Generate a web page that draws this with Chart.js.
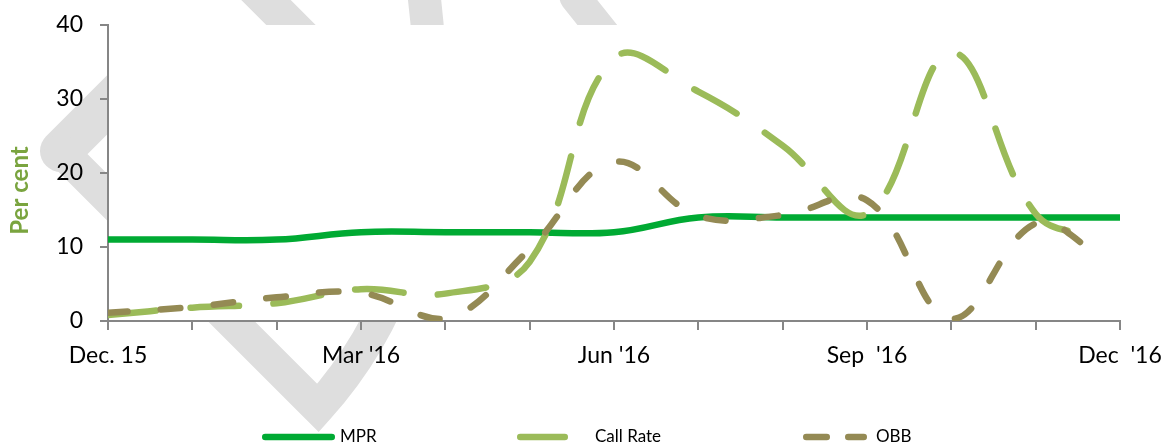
<!DOCTYPE html>
<html>
<head>
<meta charset="utf-8">
<title>MPR, Call Rate and OBB</title>
<script src="https://cdn.jsdelivr.net/npm/chart.js@4.4.1/dist/chart.umd.min.js"></script>
<style>
  html, body { margin: 0; padding: 0; background: #fff; overflow: hidden; }
  #wrap { position: relative; width: 1164px; height: 444px; }
</style>
</head>
<body>
<div id="wrap"><canvas id="rates"></canvas></div>
<script>
// month index: 0 = Dec. 15 ... 12 = Dec '16
var months = [0, 1, 2, 3, 4, 5, 6, 7, 8, 9, 10, 11, 12];
var monthLabels = ["Dec. 15", "", "", "Mar '16", "", "", "Jun '16", "", "", "Sep  '16", "", "", "Dec  '16"];
var mpr = [11, 11, 11, 12, 12, 12, 12, 14, 14, 14, 14, 14, 14];

// call rate and OBB: last reading is taken before the end of December
var rateMonths = [0, 1, 2, 3, 4, 5, 6, 7, 8, 9, 10, 11, 11.74];
var callRate = [0.8, 1.8, 2.4, 4.3, 3.7, 8, 35.5, 31, 23.7, 14.5, 36.3, 14.5, 11.2];
var obb = [1.1, 1.9, 3.2, 3.8, 0.3, 9.7, 21.5, 14.2, 14.3, 16.3, 0.3, 13.2, 9.1];

var axisGrey = '#868686';
var font = 'Lato';

function points(xs, ys) {
  return xs.map(function (x, i) { return { x: x, y: ys[i] }; });
}

/*----------------------------------------*/
/*  grey watermark behind the frame
/*----------------------------------------*/
var watermark = {
  id: 'watermark',
  beforeDraw: function (chart) {
    var c = chart.ctx, a = chart.chartArea;
    c.save();
    c.strokeStyle = '#dedede';
    c.lineCap = 'round';

    // chevron, upper arm
    c.lineJoin = 'round';
    c.lineWidth = 42;
    c.beginPath(); c.moveTo(160, 52); c.lineTo(61, 151); c.stroke();

    // lower arm into the V, then bending up
    c.lineJoin = 'miter';
    c.lineWidth = 33;
    c.beginPath(); c.moveTo(61, 151); c.lineTo(318, 408);
    c.quadraticCurveTo(460, 250, 422, -20); c.stroke();

    // strokes along the top
    c.lineWidth = 35;
    c.beginPath(); c.moveTo(236, -30); c.lineTo(350, 84); c.stroke();
    c.lineJoin = 'round';
    c.lineWidth = 31;
    c.beginPath(); c.moveTo(620, -48); c.lineTo(575, -3); c.lineTo(650, 91); c.stroke();

    // plot area stays white
    c.fillStyle = '#fff';
    c.fillRect(a.left, a.top, a.right - a.left, a.bottom - a.top);
    c.restore();
  }
};

/*----------------------------------------*/
/*  legend along the bottom
/*----------------------------------------*/
var legendSpots = [
  { from: 262, to: 335, text: 340 },
  { from: 517, to: 568, text: 595 },
  { from: 803, to: 867, text: 876, dash: [20.5, 21.5] }
];
var seriesLegend = {
  id: 'seriesLegend',
  afterDraw: function (chart) {
    var c = chart.ctx, y = 437;
    c.save();
    c.font = '17px ' + font;
    c.fillStyle = '#000';
    c.textBaseline = 'middle';
    c.lineCap = 'round';
    chart.data.datasets.forEach(function (ds, i) {
      var s = legendSpots[i], w = ds.borderWidth;
      c.strokeStyle = ds.borderColor;
      c.lineWidth = w;
      c.setLineDash(s.dash || ds.borderDash || []);
      c.beginPath(); c.moveTo(s.from + w / 2, y); c.lineTo(s.to - w / 2, y); c.stroke();
      c.setLineDash([]);
      c.fillText(ds.label, s.text, y);
    });
    c.restore();
  }
};

var ctx1 = document.getElementById('rates');
var ratesChart = new Chart(ctx1, {
  type: 'line',
  data: {
    datasets: [{
      label: 'MPR',
      data: points(months, mpr),
      borderColor: '#00aa33',
      borderWidth: 6.5,
      order: 3
    }, {
      label: 'Call Rate',
      data: points(rateMonths, callRate),
      borderColor: '#9bbb59',
      borderWidth: 6.5,
      borderDash: [48.5, 34.5],
      order: 2
    }, {
      label: 'OBB',
      data: points(rateMonths, obb),
      borderColor: '#948a54',
      borderWidth: 6.5,
      borderDash: [19.5, 33.5],
      order: 1
    }]
  },
  options: {
    responsive: true,
    maintainAspectRatio: false,
    animation: false,
    layout: { padding: { top: 25, right: 44, bottom: 0, left: 0 } },
    elements: {
      point: { radius: 0, hoverRadius: 0 },
      line: { tension: 0.4, fill: false, borderCapStyle: 'round', borderJoinStyle: 'round' }
    },
    plugins: {
      legend: { display: false },
      tooltip: { enabled: false }
    },
    scales: {
      x: {
        type: 'linear',
        min: 0,
        max: 12,
        grid: { drawOnChartArea: false, tickLength: 9, color: axisGrey, lineWidth: 2 },
        border: { color: axisGrey, width: 2 },
        ticks: {
          stepSize: 1,
          autoSkip: false,
          maxRotation: 0,
          padding: 12,
          color: '#000',
          font: { family: font, size: 23 },
          callback: function (v) { return monthLabels[v] || ''; }
        },
        afterFit: function (s) {
          s.height = 123;
          s.paddingLeft = 0;
          s.paddingRight = 0;
        }
      },
      y: {
        min: 0,
        max: 40,
        grid: { drawOnChartArea: false, tickLength: 8, color: axisGrey, lineWidth: 2 },
        border: { color: axisGrey, width: 2 },
        ticks: {
          stepSize: 10,
          padding: 17,
          color: '#000',
          font: { family: font, size: 23 }
        },
        title: {
          display: true,
          text: 'Per cent      ',
          color: '#7aa43f',
          font: { family: font, size: 24, weight: 'bold' },
          padding: { top: 6, bottom: 0 }
        },
        afterFit: function (s) {
          s.width = 108;
          s.paddingTop = 0;
          s.paddingBottom = 0;
        }
      }
    }
  },
  plugins: [watermark, seriesLegend]
});
</script>
</body>
</html>
